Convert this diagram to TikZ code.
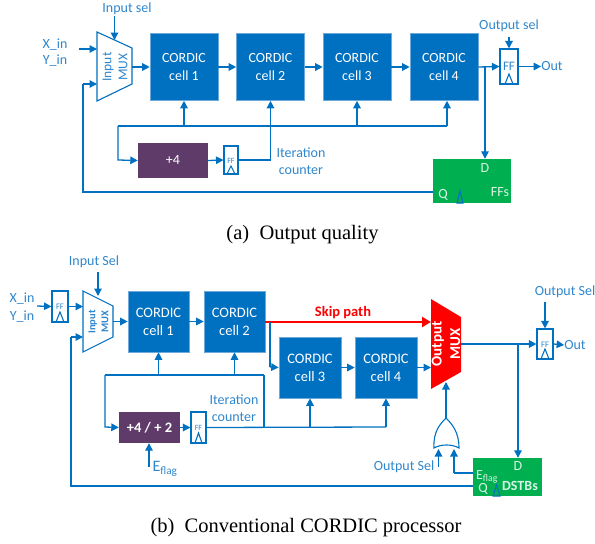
\documentclass[tikz,border=0pt]{standalone}
\usepackage{fontspec}
\setmainfont{Carlito}
\newfontfamily\capfont{Liberation Serif}
\usetikzlibrary{arrows.meta,calc}
\definecolor{cblue}{HTML}{0070C0}
\definecolor{lblue}{HTML}{2F86CC}
\definecolor{cpurple}{HTML}{5F3B69}
\definecolor{cgreen}{HTML}{00B050}
\definecolor{cred}{HTML}{FF0000}
\tikzset{
  x=1pt,y=-1pt,
  wire/.style={draw=cblue,line width=1.3pt},
  arr/.style={wire,-{Triangle[length=7.5pt,width=7.5pt]}},
  bigcell/.style={fill=cblue,draw=lblue!70,line width=.6pt,text=white,align=center,font=\fontsize{14}{17.5}\selectfont,inner sep=0pt},
  small/.style={text=lblue,font=\fontsize{14}{17.5}\selectfont,align=center,inner sep=0pt},
  ffbox/.style={draw=cblue,fill=white,line width=1.1pt,inner sep=0pt},
  fflab/.style={text=lblue,inner sep=0pt},
  clock/.style={draw=cblue,line width=1.1pt},
  capt/.style={font=\capfont\fontsize{20.5}{24}\selectfont,inner sep=0pt},
  muxbox/.style={draw=cblue,fill=white,line width=1.1pt},
  grtext/.style={text=white!85!cgreen,inner sep=0pt,font=\fontsize{14}{17}\selectfont},
}
\begin{document}
\begin{tikzpicture}
\useasboundingbox (0,0) rectangle (595,544);
%% ========== TOP ==========
\coordinate (mt1) at (97,32); \coordinate (mt2) at (132,48); \coordinate (mt3) at (132,84); \coordinate (mt4) at (97,101);
\draw[muxbox] (mt1)--(mt2)--(mt3)--(mt4)--cycle;
\node[small,rotate=90,font=\fontsize{13.5}{16}\selectfont] (tmux) at (115,67) {Input\\MUX};
\node[bigcell,minimum width=68pt,minimum height=67pt] (a1) at (184,67) {CORDIC\\cell 1};
\node[bigcell,minimum width=68pt,minimum height=67pt] (a2) at (270.5,67) {CORDIC\\cell 2};
\node[bigcell,minimum width=68pt,minimum height=67pt] (a3) at (357,67) {CORDIC\\cell 3};
\node[bigcell,minimum width=68pt,minimum height=67pt] (a4) at (444,67) {CORDIC\\cell 4};
\node[fill=cpurple,text=white,minimum width=70pt,minimum height=35pt,inner sep=0pt,font=\fontsize{14}{17}\selectfont] (pl) at (173,160.5) {+4};
\node[ffbox,minimum width=14pt,minimum height=28pt] (cf) at (231,160) {};
\node[fflab,font=\fontsize{8}{9}\selectfont] (cfl) at (231,160.5) {FF};
\draw[clock] (227,174)--(231,166)--(235,174)--cycle;
\node[ffbox,minimum width=18pt,minimum height=35pt] (of) at (509,66.5) {};
\node[fflab,font=\fontsize{13}{15}\selectfont] (ofl) at (509,66.5) {FF};
\draw[clock] (505,84)--(509,74)--(513,84)--cycle;
\node[fill=cgreen,minimum width=78pt,minimum height=44pt,inner sep=0pt] (gr) at (472,181) {};
\node[grtext] (grD) at (485,168.5) {D};
\node[grtext] (grQ) at (443,194.5) {Q};
\node[grtext] (grF) at (500,192.5) {FFs};
\draw[clock,fill=cgreen] (457,203)--(460,191)--(463,203)--cycle;
\node[small] (xin) at (55,44.5) {X\_in};
\node[small] (yin) at (55,61) {Y\_in};
\node[small] (isel) at (127,9) {Input sel};
\node[small] (osel) at (509,26) {Output sel};
\node[small] (out) at (552,66.5) {Out};
\node[small] (iter) at (301,161) {Iteration\\counter};
\coordinate (xa) at (79,49); \coordinate (xb) at (97,49);
\coordinate (ia) at (114.5,16); \coordinate (ib) at (114.5,40);
\coordinate (fb) at (97,84);
\draw[arr] (xa)--(xb);
\draw[arr] (ia)--(ib);
\draw[arr] (mt2|-a1.west) -- (a1.west);
\draw[arr] (a1.east)--(a2.west);
\draw[arr] (a2.east)--(a3.west);
\draw[arr] (a3.east)--(a4.west);
\draw[arr] (a4.east)--(of.west);
\draw[arr] (of.east)--(out.west);
\coordinate (osa) at (509,37); \draw[arr] (osa)--(of.north);
\coordinate (br) at (485,67);
\draw[arr] (br)--(br|-gr.north);
\draw[wire] (gr.west|-0,192)--(83,192)--(83,84);
\draw[arr] (83,84)--(fb);
\coordinate (busL) at (118,126); \coordinate (busR) at (447,126);
\draw[wire] (busL)--(busR);
\draw[arr] (busL)--(118,160)--(pl.west);
\draw[arr] (pl.east)--(cf.west);
\draw[wire] (cf.east)--(270.5,160)--(270.5,126);
\draw[arr] (270.5,126)--(a2.south);
\draw[arr] (a1.south|-busL)--(a1.south);
\draw[arr] (a3.south|-busL)--(a3.south);
\draw[arr] (busR)--(busR|-a4.south);
\node[capt] (capa) at (302.5,234.5) {(a)\ \ Output quality};
%% ========== BOTTOM ==========
\coordinate (m1) at (83,291); \coordinate (m2) at (113,306); \coordinate (m3) at (113,337); \coordinate (m4) at (83,352);
\draw[muxbox] (m1)--(m2)--(m3)--(m4)--cycle;
\node[small,rotate=90,font=\bfseries\fontsize{10.5}{13}\selectfont] (bmux) at (98.5,322) {Input\\MUX};
\node[bigcell,minimum width=61pt,minimum height=61pt,font=\fontsize{14.5}{18}\selectfont] (b1) at (158.5,321.5) {CORDIC\\cell 1};
\node[bigcell,minimum width=61pt,minimum height=61pt,font=\fontsize{14.5}{18}\selectfont] (b2) at (234.5,321.5) {CORDIC\\cell 2};
\node[bigcell,minimum width=62pt,minimum height=61pt,font=\fontsize{14.5}{18}\selectfont] (b3) at (310,367.5) {CORDIC\\cell 3};
\node[bigcell,minimum width=62pt,minimum height=61pt,font=\fontsize{14.5}{18}\selectfont] (b4) at (386,367.5) {CORDIC\\cell 4};
\coordinate (o1) at (431,299); \coordinate (o2) at (461,317); \coordinate (o3) at (461,372); \coordinate (o4) at (431,389);
\fill[cred] (o1)--(o2)--(o3)--(o4)--cycle;
\node[text=white,rotate=90,align=center,inner sep=0pt,font=\bfseries\fontsize{15}{18.5}\selectfont] (omux) at (446,344) {Output\\MUX};
\node[ffbox,minimum width=16pt,minimum height=31pt] (bif) at (60,306.5) {};
\node[fflab,font=\fontsize{8.5}{10}\selectfont] (bifl) at (60,306.5) {FF};
\draw[clock] (56,322)--(60,312)--(64,322)--cycle;
\node[fill=cpurple,text=white,minimum width=61pt,minimum height=31pt,inner sep=0pt,font=\bfseries\fontsize{14.5}{17}\selectfont] (bp) at (149.5,427.5) {+4 / + 2};
\node[ffbox,minimum width=15pt,minimum height=31pt] (bcf) at (198.5,427.5) {};
\node[fflab,font=\fontsize{8}{9}\selectfont] (bcfl) at (198.5,428) {FF};
\draw[clock] (195,443)--(198.5,433)--(202,443)--cycle;
\node[ffbox,minimum width=16pt,minimum height=30pt] (bof) at (545,344) {};
\node[fflab,font=\fontsize{8.5}{10}\selectfont] (bofl) at (545,344.5) {FF};
\draw[clock] (541,359)--(545,349)--(549,359)--cycle;
\node[fill=cgreen,minimum width=69pt,minimum height=38pt,inner sep=0pt] (bg) at (507.5,477) {};
\node[grtext] (bgD) at (518,466.5) {D};
\node[grtext] (bgE) at (487,476.5) {E\textsubscript{flag}};
\node[grtext] (bgQ) at (483,488.5) {Q};
\node[grtext,font=\bfseries\fontsize{14}{17}\selectfont] (bgS) at (520,486) {DSTBs};
\draw[clock,fill=cgreen] (493,496)--(496.5,485)--(500,496)--cycle;
\node[small] (bx) at (22,299) {X\_in};
\node[small] (by) at (22,316.5) {Y\_in};
\node[small] (bis) at (94,262) {Input Sel};
\node[small] (bos) at (565,291.5) {Output Sel};
\node[small] (bos2) at (404,466.5) {Output Sel};
\node[small] (bout) at (575,345) {Out};
\node[small] (bit) at (234,408) {Iteration\\counter};
\node[small,font=\fontsize{16}{18}\selectfont] (bef) at (165,469) {E\textsubscript{flag}};
\node[text=cred,inner sep=0pt,font=\bfseries\fontsize{14.5}{17}\selectfont] (bsk) at (343,312.5) {Skip path};
% OR gate
\coordinate (ortop) at (446,418);
\draw[cblue,line width=1.1pt,fill=white] (434,448) .. controls (433,432) and (440,424) .. (ortop) .. controls (452,424) and (459,432) .. (459,448) .. controls (452,444) and (441,444) .. cycle;
\draw[arr] (ortop)--(446,382);
\coordinate (ba) at (37,306); \coordinate (bi1) at (98,272); \coordinate (bi2) at (98,296);
\draw[arr] (ba)--(bif.west);
\draw[arr] (bif.east)--(m1|-bif.east);
\draw[arr] (bi1)--(bi2);
\draw[arr] (m2|-b1.west)--(b1.west);
\draw[arr] (b1.east)--(b2.west);
\draw[line width=2.8pt,draw=cred,-{Triangle[length=9pt,width=10pt]}] (b2.east|-0,322)--(431,322);
\coordinate (sk) at (270,322);
\draw[wire] (sk)--(270,367);
\draw[arr] (270,367)--(b3.west);
\draw[arr] (b3.east)--(b4.west);
\draw[arr] (b4.east)--(o4|-b4.east);
\draw[arr] (o2|-bof.west)--(bof.west);
\coordinate (bbr) at (518,344);
\draw[arr] (bbr)--(bbr|-bg.north);
\coordinate (bosa) at (545,302);
\draw[arr] (bosa)--(bof.north);
\draw[arr] (bof.east)--(bout.west);
\coordinate (bl) at (105,375); \coordinate (brr) at (264,375);
\draw[wire] (bl)--(brr);
\draw[arr] (bl)--(105,427)--(bp.west);
\draw[arr] (bp.east)--(bcf.west);
\draw[wire] (bcf.east)--(386,427);
\draw[wire] (264,427)--(brr);
\draw[arr] (b1.south|-bl)--(b1.south);
\draw[arr] (b2.south|-bl)--(b2.south);
\draw[arr] (b3.south|-0,427)--(b3.south);
\draw[arr] (b4.south|-0,427)--(b4.south);
\coordinate (ef) at (149,467);
\draw[arr] (ef)--(ef|-bp.south);
\draw[wire] (bg.west|-0,486)--(71,486)--(71,337);
\draw[arr] (71,337)--(83,337);
\coordinate (oa) at (438.5,467);
\draw[arr] (oa)--(438.5,449);
\draw[wire] (bg.west|-0,473)--(454,473);
\draw[arr] (454,473)--(454,449);
\node[capt] (capb) at (306,527.5) {(b)\ \ Conventional CORDIC processor};
\end{tikzpicture}
\end{document}
